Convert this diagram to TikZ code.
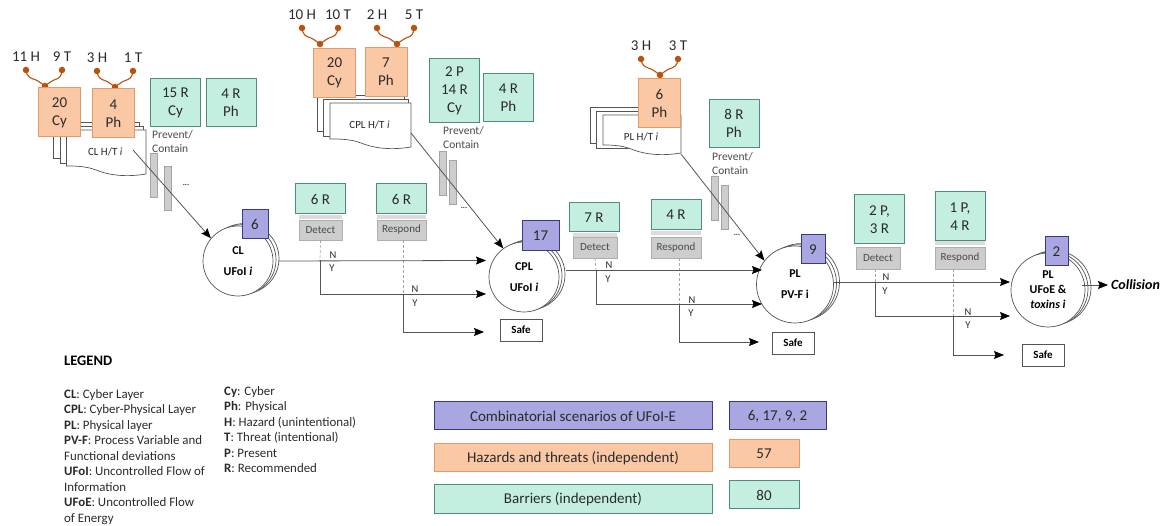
\documentclass[tikz,border=0pt]{standalone}
\usepackage{fontspec}
\setmainfont{Carlito}
\usetikzlibrary{arrows.meta}
\usetikzlibrary{shadows}
\definecolor{DarkText}{HTML}{2A2A2A}
\definecolor{LineGrey}{HTML}{555555}
\definecolor{OrangeFill}{HTML}{FBC8A6}
\definecolor{OrangeEdge}{HTML}{E39A68}
\definecolor{GreenFill}{HTML}{C4EFE0}
\definecolor{GreenEdge}{HTML}{4F8C80}
\definecolor{BlueFill}{HTML}{A9A6E2}
\definecolor{BlueEdge}{HTML}{3A3A80}
\definecolor{BarGrey}{HTML}{CDCDCD}
\definecolor{PinBrown}{HTML}{B8530F}
\tikzset{
  orangebox/.style={draw=OrangeEdge,fill=OrangeFill,line width=1pt,inner sep=0pt,minimum width=42pt,minimum height=49pt,align=center,text=DarkText,font=\fontsize{15}{18}\selectfont},
  greenbox/.style={draw=GreenEdge,fill=GreenFill,line width=1pt,inner sep=0pt,minimum width=50pt,minimum height=48pt,align=center,text=DarkText,font=\fontsize{15}{18}\selectfont},
  bluebox/.style={draw=BlueEdge,fill=BlueFill,line width=1pt,inner sep=0pt,align=center,text=DarkText,font=\fontsize{15}{18}\selectfont},
  greybox/.style={fill=BarGrey,draw=BarGrey!85!black,line width=.4pt,inner sep=0pt,minimum height=20pt,text=DarkText!85,font=\fontsize{11}{12}\selectfont},
  stripbox/.style={fill=BarGrey!70,inner sep=0pt,minimum height=4pt},
  barbox/.style={fill=BarGrey,draw=BarGrey!80!black,line width=.4pt,inner sep=0pt,minimum width=7pt,minimum height=44pt},
  safebox/.style={draw=LineGrey,line width=.8pt,fill=white,inner sep=0pt,minimum width=42pt,minimum height=22pt,font=\bfseries\fontsize{11}{12}\selectfont},
  ufonode/.style={circle,draw=LineGrey,line width=.7pt,fill=white,inner sep=0pt,align=center,text=black,font=\bfseries\fontsize{12}{15}\selectfont,double copy shadow={shadow xshift=3pt,shadow yshift=1.2pt,draw=LineGrey,fill=white}},
  flow/.style={draw=LineGrey,line width=.8pt,-{Stealth[length=10pt,width=8pt,inset=1.5pt,color=black]}},
  dashline/.style={draw=BarGrey!80!black,line width=.7pt,densely dashed},
  lbl/.style={inner sep=0pt,text=DarkText,font=\fontsize{10.5}{11}\selectfont},
  small/.style={inner sep=0pt,anchor=west,align=left,text=DarkText!85,font=\fontsize{11.5}{14}\selectfont},
  pin/.style={circle,fill=PinBrown,inner sep=0pt,minimum size=6.5pt},
  pintext/.style={inner sep=0pt,text=DarkText,font=\fontsize{15}{16}\selectfont},
  legendtext/.style={inner sep=0pt,anchor=north west,align=left,text=DarkText,font=\fontsize{12.9}{15.5}\selectfont},
  keytext/.style={font=\fontsize{15}{16}\selectfont}
}
\newcommand{\hazfork}[7]{%
  \node[pin] (#1b) at (#2,#3) {};
  \node[pin] (#1l) at (#4,#3-16) {};
  \node[pin] (#1r) at (#5,#3-16) {};
  \draw[PinBrown,line width=1.1pt] (#1l.center) .. controls +(1,7) and (#2-15,#3-8) .. (#2-9,#3-6) .. controls (#2-5,#3-4) and (#2-3,#3-2) .. (#1b.center);
  \draw[PinBrown,line width=1.1pt] (#1r.center) .. controls +(-1,7) and (#2+15,#3-8) .. (#2+9,#3-6) .. controls (#2+5,#3-4) and (#2+3,#3-2) .. (#1b.center);
  \node[pintext] at (#4,#3-29) {#6};
  \node[pintext] at (#5,#3-29) {#7};
}
\newcommand{\docstack}[6]{%
  \draw[LineGrey,line width=.7pt,fill=white] (#1-13,#2-8) rectangle (#1+#3-7,#2+28);
  \draw[LineGrey,line width=.7pt,fill=white] (#1-6.5,#2-4) rectangle (#1+#3-3,#2+33);
  \draw[LineGrey,line width=.7pt,fill=white] (#1,#2) -- (#1+#3,#2) -- (#1+#3,#2+#4) .. controls (#1+#3-18,#2+#4+3) and (#1+#3-35,#2+#4+2) .. (#1+#3-50,#2+#4-4) .. controls (#1+#3-60,#2+#4-8) and (#1+#3-72,#2+#4-8) .. (#1,#2+#4-8) -- cycle;
  \node[inner sep=0pt,text=DarkText,font=\fontsize{11}{12}\selectfont] (#5) at (#1+#3/2-1,#2+22) {#6};
}
\begin{document}
\begin{tikzpicture}[x=1pt,y=-1pt]
  \useasboundingbox (0,0) rectangle (1163,526);

  \docstack{66.5}{130}{79.5}{44}{cldoc}{CL H/T \textit{i}}
  \docstack{330}{103}{81}{44}{cpldoc}{CPL H/T \textit{i}}
  \docstack{603}{115}{78}{38}{pldoc}{PL H/T \textit{i}}
  \coordinate (cldocout) at (133,150);
  \coordinate (cpldocout) at (411,133);
  \coordinate (pldocout) at (681,154);

  \hazfork{cla}{45}{86}{26}{62}{11 H}{9 T}
  \hazfork{clb}{115}{87}{97}{133}{3 H}{1 T}
  \hazfork{cpla}{320}{44}{302}{338}{10 H}{10 T}
  \hazfork{cplb}{397}{44}{377}{414}{2 H}{5 T}
  \hazfork{pla}{660}{75}{641}{678}{3 H}{3 T}

  \node[orangebox] (clcy) at (59.5,112.5) {20\\Cy};
  \node[orangebox] (clph) at (113.5,113.5) {4\\Ph};
  \node[orangebox] (cplcy) at (334.5,73) {20\\Cy};
  \node[orangebox] (cplph) at (386,72) {7\\Ph};
  \node[orangebox] (plph) at (659.5,103) {6\\Ph};

  \node[greenbox] (clrcy) at (175.5,103) {15 R\\Cy};
  \node[greenbox] (clrph) at (231,103) {4 R\\Ph};
  \node[greenbox,minimum height=64pt] (cplrcy) at (454.5,91) {2 P\\14 R\\Cy};
  \node[greenbox] (cplrph) at (508.5,98) {4 R\\Ph};
  \node[greenbox] (plrph) at (734,123.5) {8 R\\Ph};

  \node[small] (clprev) at (152,142) {Prevent/\\Contain};
  \node[small] (cplprev) at (443,138) {Prevent/\\Contain};
  \node[small] (plprev) at (712,164) {Prevent/\\Contain};

  \node[barbox] (clbara) at (153.5,175) {};
  \node[barbox] (clbarb) at (167.5,188) {};
  \node[barbox] (cplbara) at (442.5,173.5) {};
  \node[barbox] (cplbarb) at (453,182.5) {};
  \node[barbox] (plbara) at (715,198.5) {};
  \node[barbox] (plbarb) at (725,207.5) {};
  \node[lbl,font=\bfseries\fontsize{8}{9}\selectfont] (cldots) at (186,185) {...};
  \node[lbl,font=\bfseries\fontsize{8}{9}\selectfont] (cpldots) at (464,208) {...};
  \node[lbl,font=\bfseries\fontsize{8}{9}\selectfont] (pldots) at (737,235) {...};

  \node[ufonode,minimum size=70pt] (clufo) at (238,261) {CL\\[6pt]UFoI \textit{i}};
  \node[ufonode,minimum size=70pt] (cplufo) at (524,277) {CPL\\[6pt]UFoI \textit{i}};
  \node[ufonode,minimum size=77pt] (plufo) at (795,284.5) {PL\\[6pt]PV-F i};
  \node[ufonode,minimum size=74pt] (ufoe) at (1048,290) {PL\\[0pt]UFoE \&\\[0pt]\textit{toxins i}};

  \node[bluebox,minimum width=26pt,minimum height=29pt] (clscen) at (255,224.5) {6};
  \node[bluebox,minimum width=37pt,minimum height=30pt] (cplscen) at (540.5,236) {17};
  \node[bluebox,minimum width=24pt,minimum height=29pt] (plscen) at (813,249.5) {9};
  \node[bluebox,minimum width=23pt,minimum height=29pt] (ufoescen) at (1056.5,251.5) {2};

  \node[stripbox,minimum width=43pt] (cldetstrip) at (320.5,217) {};
  \node[stripbox,minimum width=49pt] (clresstrip) at (401.5,217) {};
  \node[stripbox,minimum width=44pt] (cpldetstrip) at (595,235) {};
  \node[stripbox,minimum width=50pt] (cplresstrip) at (676,233.5) {};
  \node[stripbox,minimum width=50pt] (plresstrip) at (960,243) {};

  \node[greenbox,minimum height=30pt] (cldetr) at (320.5,199) {6 R};
  \node[greenbox,minimum height=30pt] (clresr) at (401.5,199) {6 R};
  \node[greenbox,minimum height=29pt] (cpldetr) at (594,217.5) {7 R};
  \node[greenbox,minimum height=30pt] (cplresr) at (676,215) {4 R};
  \node[greenbox,minimum height=49pt] (pldetr) at (879.5,219.5) {2 P,\\3 R};
  \node[greenbox,minimum height=49pt] (plresr) at (960,216.5) {1 P,\\4 R};

  \node[greybox,minimum width=43pt] (cldet) at (320.5,230) {Detect};
  \node[greybox,minimum width=49pt] (clres) at (401.5,230) {Respond};
  \node[greybox,minimum width=44pt,minimum height=21pt] (cpldet) at (595,247.5) {Detect};
  \node[greybox,minimum width=50pt,minimum height=21pt] (cplres) at (676,247.5) {Respond};
  \node[greybox,minimum width=44pt,minimum height=22pt] (pldet) at (878,258) {Detect};
  \node[greybox,minimum width=50pt,minimum height=22pt] (plres) at (960,258) {Respond};

  \node[safebox] (cplsafe) at (521,330) {Safe};
  \node[safebox] (plsafe) at (793,343) {Safe};
  \node[safebox] (ufoesafe) at (1043,355) {Safe};

  \coordinate (clj1) at (320,260.5);
  \coordinate (clj2) at (403,294);
  \coordinate (cplin1) at (486,260.5);
  \coordinate (cplin2) at (486,294);
  \coordinate (cplin3) at (484,332);
  \coordinate (cplj1) at (596,270);
  \coordinate (cplj2) at (679,304);
  \coordinate (plin1) at (762,270);
  \coordinate (plin2) at (762,304);
  \coordinate (plin3) at (759,342);
  \coordinate (plj1) at (875,282);
  \coordinate (plj2) at (953,316);
  \coordinate (ufoein1) at (1010,282);
  \coordinate (ufoein2) at (1010,316);
  \coordinate (ufoein3) at (1004,355);
  \coordinate (collout) at (1108,285);

  \draw[dashline] (cldet.south) -- (clj1);
  \draw[dashline] (clres.south -| clj2) -- (clj2);
  \draw[dashline] (cpldet.south) -- (cplj1);
  \draw[dashline] (cplres.south -| cplj2) -- (cplj2);
  \draw[dashline] (pldet.south -| plj1) -- (plj1);
  \draw[dashline] (plres.south -| plj2) -- (plj2);

  \draw[flow] (clufo.east) ++(5,0) -- (cplin1);
  \draw[flow] (clj1) |- (cplin2);
  \draw[flow] (clj2) |- (cplin3);
  \draw[flow] (cplufo.east) ++(7,-7) -- (plin1);
  \draw[flow] (cplj1) |- (plin2);
  \draw[flow] (cplj2) |- (plin3);
  \draw[flow] (plufo.east) ++(0,-2.5) -- (ufoein1);
  \draw[flow] (plj1) |- (ufoein2);
  \draw[flow] (plj2) |- (ufoein3);
  \draw[flow] (ufoe.east) ++(-3,-5) -- (collout);

  \draw[flow] (cldocout) -- (clufo.140);
  \draw[flow] (cpldocout) -- (cplufo.126);
  \draw[flow] (pldocout) -- (plufo.142);

  \node[lbl] (cln1) at (333,255) {N};
  \node[lbl] (cly1) at (332,268) {Y};
  \node[lbl] (cln2) at (415,289) {N};
  \node[lbl] (cly2) at (415,303) {Y};
  \node[lbl] (cpln1) at (609,265) {N};
  \node[lbl] (cply1) at (608,279) {Y};
  \node[lbl] (cpln2) at (692,300) {N};
  \node[lbl] (cply2) at (691,313) {Y};
  \node[lbl] (pln1) at (886,277) {N};
  \node[lbl] (ply1) at (885,291) {Y};
  \node[lbl] (pln2) at (968,312) {N};
  \node[lbl] (ply2) at (968,325) {Y};

  \node[inner sep=0pt,anchor=west,font=\bfseries\itshape\fontsize{14}{16}\selectfont] (collision) at (1111,285) {Collision};

  \node[inner sep=0pt,anchor=west,font=\bfseries\fontsize{14.5}{16}\selectfont] (legend) at (64,361) {LEGEND};
  \node[legendtext] (legendl) at (64,389) {\textbf{CL}: Cyber Layer\\\textbf{CPL}: Cyber-Physical Layer\\\textbf{PL}: Physical layer\\\textbf{PV-F}: Process Variable and\\Functional deviations\\\textbf{UFoI}: Uncontrolled Flow of\\Information\\\textbf{UFoE}: Uncontrolled Flow\\of Energy};
  \node[legendtext] (legendr) at (224,386) {\textbf{Cy}: Cyber\\\textbf{Ph}: Physical\\\textbf{H}: Hazard (unintentional)\\\textbf{T}: Threat (intentional)\\\textbf{P}: Present\\\textbf{R}: Recommended};

  \node[bluebox,keytext,minimum width=278pt,minimum height=28pt] (keyscen) at (573,416) {Combinatorial scenarios of UFoI-E};
  \node[orangebox,keytext,minimum width=278pt,minimum height=28pt] (keyhaz) at (573,458) {Hazards and threats (independent)};
  \node[greenbox,keytext,minimum width=278pt,minimum height=29pt] (keybar) at (573,499.5) {Barriers (independent)};
  \node[bluebox,keytext,minimum width=97pt,minimum height=28pt] (valscen) at (777.5,416) {6, 17, 9, 2};
  \node[orangebox,keytext,minimum width=70pt,minimum height=28pt] (valhaz) at (764,454) {57};
  \node[greenbox,keytext,minimum width=70pt,minimum height=28pt] (valbar) at (764,495) {80};
\end{tikzpicture}
\end{document}
